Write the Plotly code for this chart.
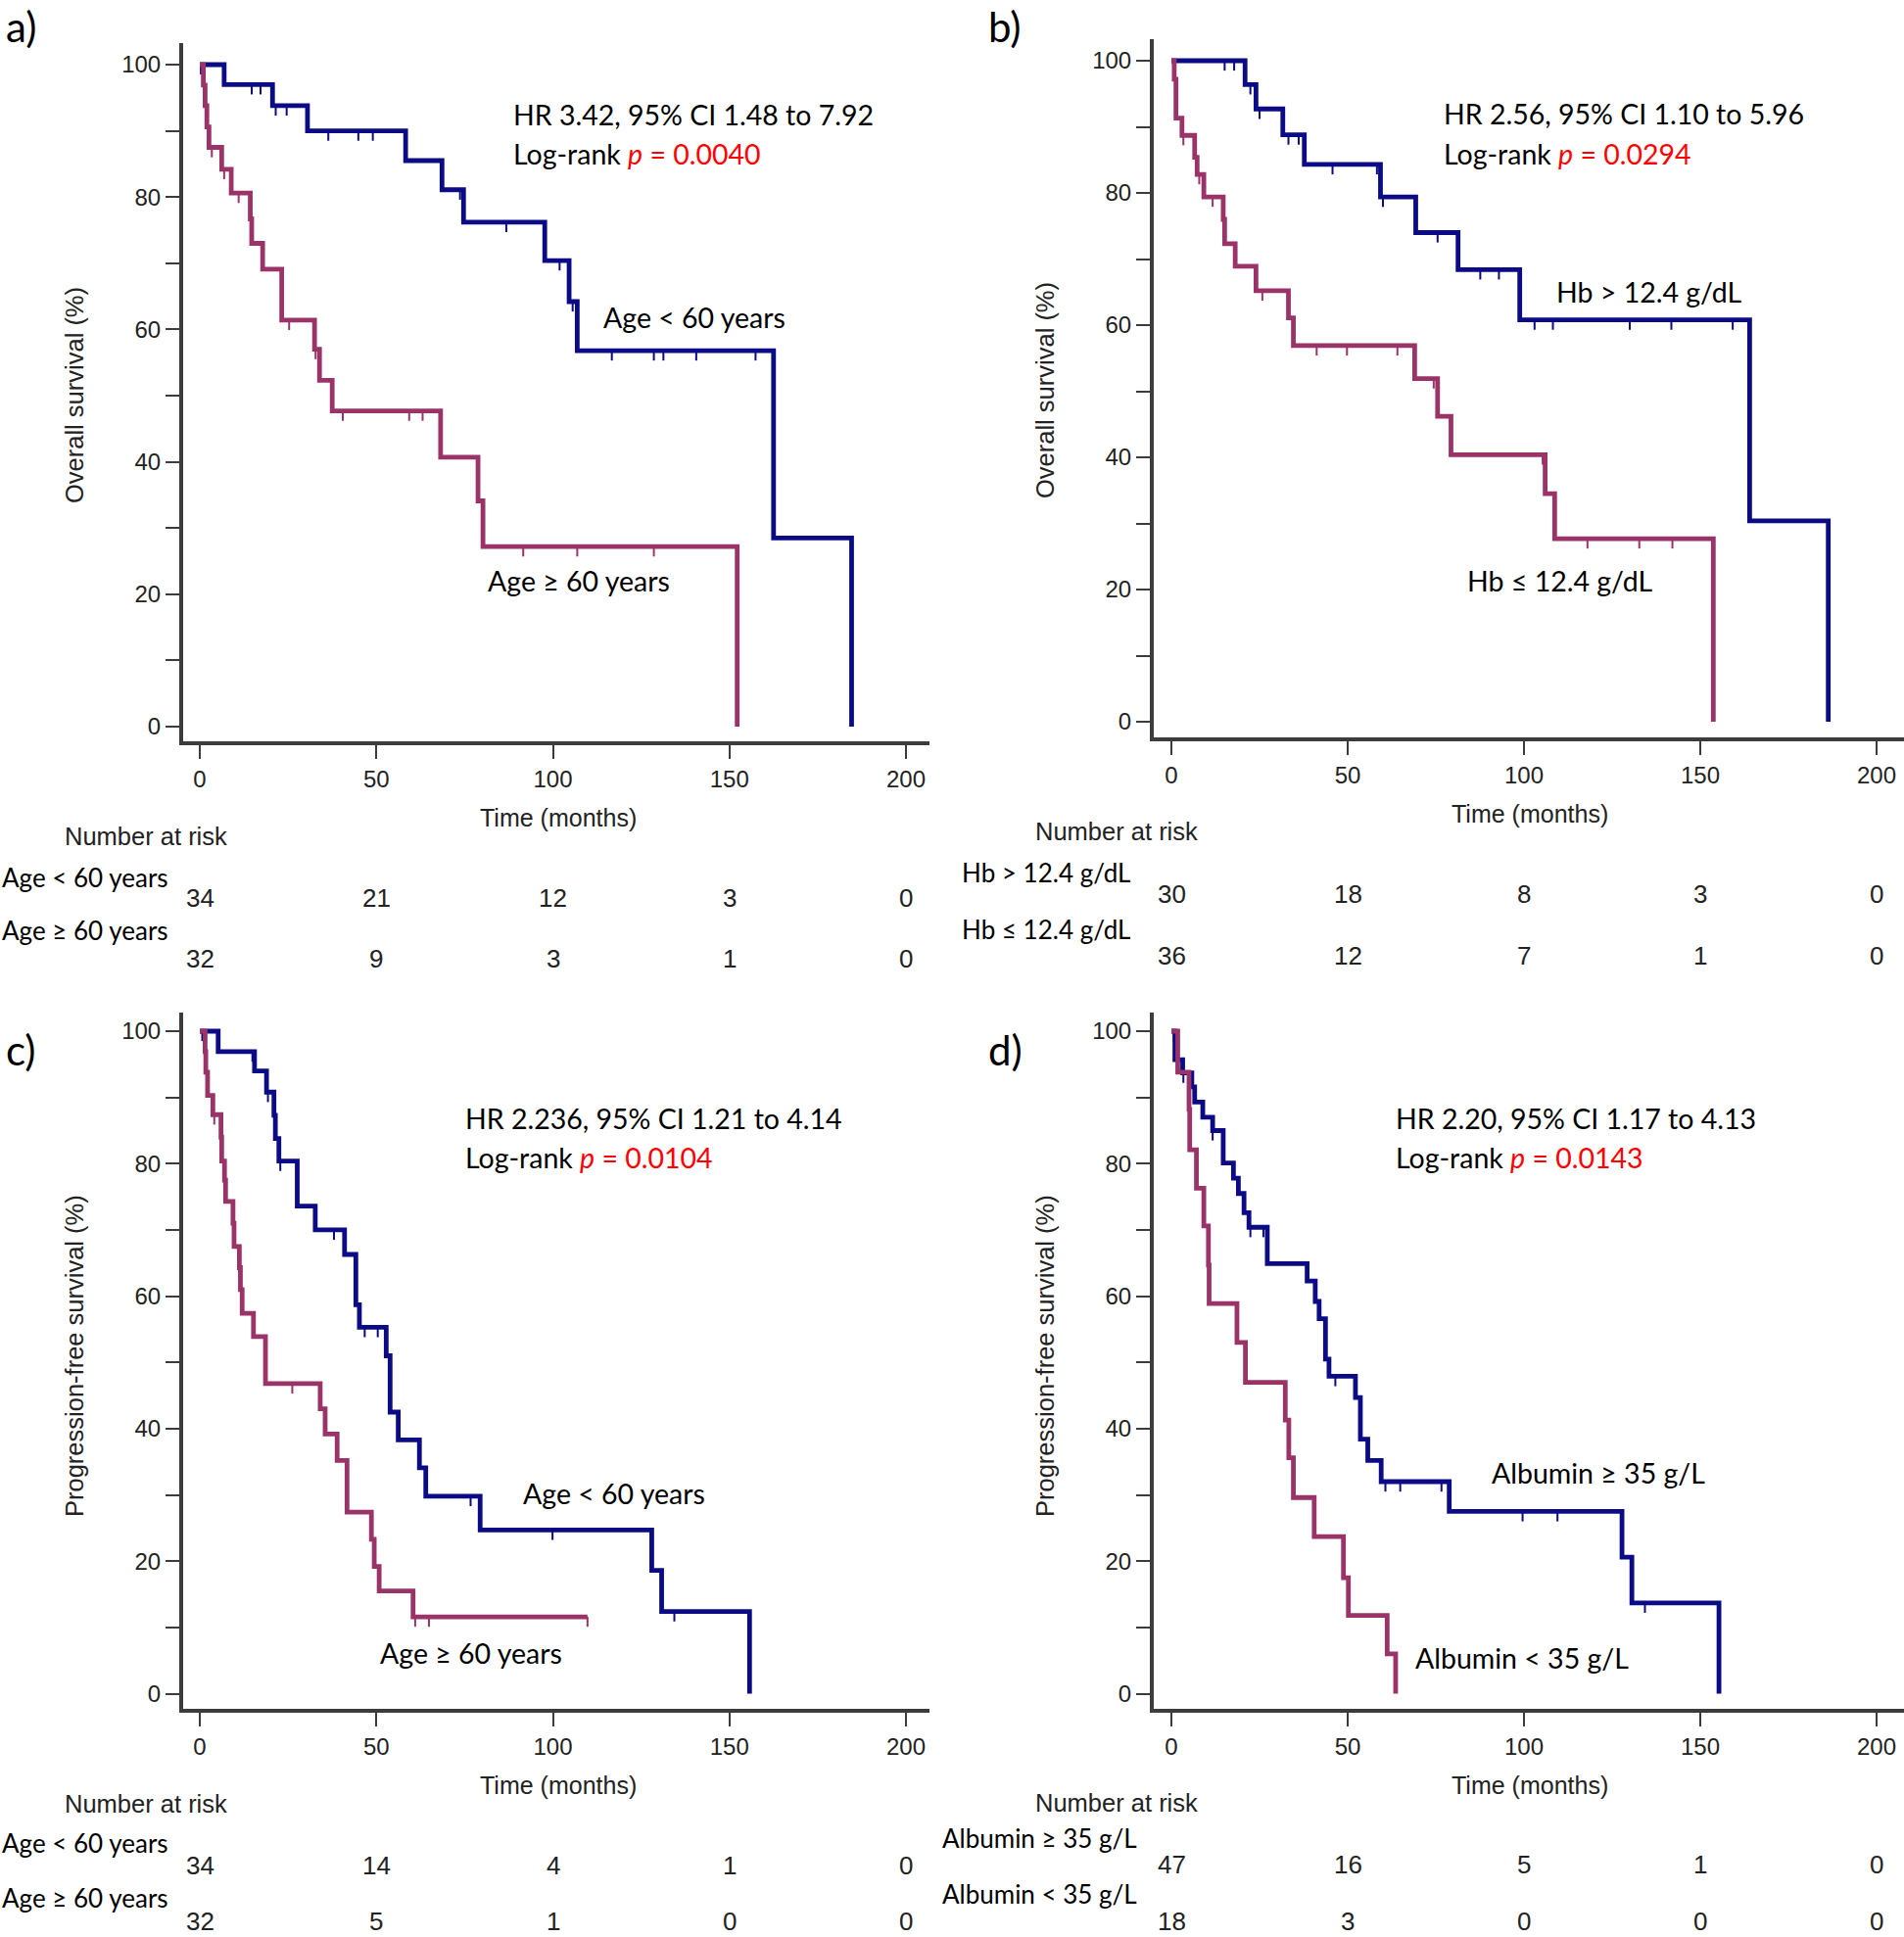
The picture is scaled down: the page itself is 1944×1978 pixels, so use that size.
import plotly.graph_objects as go

W, H = 1944, 1978

# ---------------- DATA ----------------
# Panel a: overall survival by age
a_blue_t = [0, 6.9, 20.6, 30.5, 58.3, 68.6, 74.7, 97.7, 104.6, 106.9, 162.5, 184.6]
a_blue_s = [100, 97.0, 93.8, 90.0, 85.5, 81.1, 76.2, 70.4, 64.2, 56.8, 28.5, 0]
a_blue_c = [0.3, 14.7, 17.2, 21.5, 24.6, 36.4, 44.9, 49.0, 73.7, 86.8, 101.9, 105.6,
            116.7, 128.6, 131.3, 140.6, 157.4]
a_mag_t = [0, 1.0, 1.5, 2.0, 2.6, 6.2, 8.9, 14.3, 14.7, 17.8, 23.2, 32.5, 33.9, 37.5,
           68.2, 78.8, 80.2, 152.2]
a_mag_s = [100, 96.9, 93.8, 90.6, 87.5, 84.2, 80.6, 76.7, 73.0, 69.1, 61.4, 57.0, 52.3,
           47.7, 40.7, 34.1, 27.2, 0]
a_mag_c = [3.4, 6.9, 11.0, 25.3, 32.8, 40.5, 59.3, 63.1, 91.6, 106.9, 128.6]

# Panel b: overall survival by haemoglobin
b_blue_t = [0, 20.9, 24.0, 31.6, 37.7, 59.3, 69.3, 81.3, 98.8, 164.0, 186.3]
b_blue_s = [100, 96.4, 92.7, 88.8, 84.3, 79.4, 74.0, 68.4, 60.8, 30.4, 0]
b_blue_c = [15.1, 17.8, 22.4, 25.0, 33.2, 36.1, 45.7, 58.3, 60.0, 75.5, 87.6, 92.9,
            103.0, 108.2, 130.0, 141.8, 159.2]
b_mag_t = [0, 0.8, 1.3, 3.0, 6.6, 7.3, 9.2, 14.7, 15.1, 18.1, 24.0, 33.2, 34.6, 69.0,
           75.5, 79.3, 106.0, 108.7, 153.7]
b_mag_s = [100, 97.2, 91.3, 88.7, 85.4, 82.8, 79.4, 76.0, 72.3, 68.9, 65.2, 61.1, 56.9,
           51.9, 46.2, 40.4, 34.5, 27.7, 0]
b_mag_c = [3.4, 7.9, 11.7, 25.8, 41.2, 49.8, 64.1, 74.4, 105.3, 118.0, 132.7, 142.1]

# Panel c: progression-free survival by age
c_blue_t = [0, 5.2, 15.5, 18.9, 21.0, 21.4, 22.4, 27.6, 32.7, 41.0, 44.2, 45.2, 52.8,
            53.9, 56.2, 62.2, 64.0, 79.4, 128.0, 130.8, 155.7]
c_blue_s = [100, 96.9, 94.0, 90.8, 87.3, 83.8, 80.4, 73.6, 70.0, 66.3, 58.7, 55.3, 51.0,
            42.5, 38.3, 34.1, 29.8, 24.7, 18.6, 12.4, 0]
c_blue_c = [0.7, 14.9, 19.3, 22.8, 38.0, 46.7, 50.4, 76.7, 99.9, 134.4]
c_mag_t = [0, 1.5, 1.7, 2.2, 3.7, 6.0, 6.2, 7.0, 7.3, 9.4, 9.7, 11.2, 11.5, 12.0, 15.2,
           18.6, 34.1, 35.5, 38.9, 41.7, 48.6, 49.4, 50.8, 60.4, 109.8]
c_mag_s = [100, 96.9, 93.8, 90.3, 87.4, 84.0, 80.4, 77.5, 74.3, 71.0, 67.5, 64.3, 61.0,
           57.4, 53.9, 46.8, 43.0, 39.2, 35.2, 27.4, 23.3, 19.2, 15.5, 11.6, 11.6]
c_mag_c = [4.1, 26.2, 61.0, 64.9, 109.8]

# Panel d: progression-free survival by albumin
d_blue_t = [0, 1.0, 3.2, 5.8, 6.6, 8.9, 11.7, 14.7, 17.6, 19.0, 20.6, 22.0, 27.2, 38.5,
            40.8, 41.9, 43.7, 44.7, 52.2, 53.6, 55.7, 59.5, 78.8, 127.8, 130.6, 155.3]
d_blue_s = [100, 95.7, 93.7, 91.6, 89.3, 87.0, 85.0, 80.1, 77.8, 75.5, 72.6, 70.4, 64.9,
            62.3, 59.2, 56.6, 50.5, 47.9, 44.7, 38.4, 35.2, 32.0, 27.5, 20.6, 13.7, 0]
d_blue_c = [0.7, 3.4, 11.7, 22.4, 26.1, 46.5, 60.7, 64.9, 76.6, 99.6, 109.5, 134.3]
d_mag_t = [0, 1.8, 5.0, 5.2, 7.1, 9.2, 10.5, 10.7, 18.6, 21.0, 32.3, 33.3, 34.6, 40.5,
           48.8, 50.2, 61.2, 63.6]
d_mag_s = [100, 93.8, 88.2, 82.1, 76.3, 70.6, 64.7, 58.9, 53.0, 47.0, 41.3, 35.6, 29.6,
           23.7, 17.5, 11.8, 6.0, 0]
d_mag_c = []

risk_times = [0, 50, 100, 150, 200]
a_risk_blue = [34, 21, 12, 3, 0]
a_risk_mag = [32, 9, 3, 1, 0]
b_risk_blue = [30, 18, 8, 3, 0]
b_risk_mag = [36, 12, 7, 1, 0]
c_risk_blue = [34, 14, 4, 1, 0]
c_risk_mag = [32, 5, 1, 0, 0]
d_risk_blue = [47, 16, 5, 1, 0]
d_risk_mag = [18, 3, 0, 0, 0]

y_ticks = [0, 10, 20, 30, 40, 50, 60, 70, 80, 90, 100]
y_ticktext = ["0", "", "20", "", "40", "", "60", "", "80", "", "100"]

# ---------------- STYLE / LAYOUT ----------------
BLUE = "#0b0b86"
MAG = "#9a3468"
AXC = "#3c3c3c"
ARIAL = "Liberation Sans, Arial, sans-serif"
NARROW = "Liberation Sans Narrow, Arial Narrow, Liberation Sans, sans-serif"
CAL = "Lato, Open Sans, sans-serif"

panels = [
    dict(name="a", bt=a_blue_t, bs=a_blue_s, bc=a_blue_c, mt=a_mag_t, ms=a_mag_s, mc=a_mag_c,
         rb=a_risk_blue, rm=a_risk_mag,
         xpx=(187, 949), ypx=(44, 757), x0=204, x200=925, y100=66, y0=742,
         ytitle="Overall survival (%)", ytx=76, yty=404,
         hr="HR 3.42, 95% CI 1.48 to 7.92", p="0.0040", hrx=88.3, hry=92.5, lry=86.6,
         lb="Age &lt; 60 years", lbx=113.8, lby=61.8, lm="Age ≥ 60 years", lmx=80.9, lmy=22.0,
         rlb="Age &lt; 60 years", rlm="Age ≥ 60 years", rlx=0, rly=(896, 950), rny=(917, 979),
         nar=(149, 854), tm=(570, 835), letter=(4, 27)),
    dict(name="b", bt=b_blue_t, bs=b_blue_s, bc=b_blue_c, mt=b_mag_t, ms=b_mag_s, mc=b_mag_c,
         rb=b_risk_blue, rm=b_risk_mag,
         xpx=(1178, 1944), ypx=(40, 753), x0=1196, x200=1916, y100=62, y0=737,
         ytitle="Overall survival (%)", ytx=1067, yty=399,
         hr="HR 2.56, 95% CI 1.10 to 5.96", p="0.0294", hrx=76.7, hry=92.0, lry=86.0,
         lb="Hb &gt; 12.4 g/dL", lbx=108.6, lby=65.0, lm="Hb ≤ 12.4 g/dL", lmx=83.4, lmy=21.3,
         rlb="Hb &gt; 12.4 g/dL", rlm="Hb ≤ 12.4 g/dL", rlx=980, rly=(891, 949), rny=(913, 976),
         nar=(1140, 849), tm=(1562, 831), letter=(1007, 27)),
    dict(name="c", bt=c_blue_t, bs=c_blue_s, bc=c_blue_c, mt=c_mag_t, ms=c_mag_s, mc=c_mag_c,
         rb=c_risk_blue, rm=c_risk_mag,
         xpx=(187, 949), ypx=(1034, 1745), x0=204, x200=925, y100=1053, y0=1729.5,
         ytitle="Progression-free survival (%)", ytx=76, yty=1385,
         hr="HR 2.236, 95% CI 1.21 to 4.14", p="0.0104", hrx=74.6, hry=86.9, lry=81.0,
         lb="Age &lt; 60 years", lbx=91.1, lby=30.2, lm="Age ≥ 60 years", lmx=50.4, lmy=6.2,
         rlb="Age &lt; 60 years", rlm="Age ≥ 60 years", rlx=0, rly=(1882, 1938), rny=(1905, 1962),
         nar=(149, 1842), tm=(570, 1823), letter=(4, 1072)),
    dict(name="d", bt=d_blue_t, bs=d_blue_s, bc=d_blue_c, mt=d_mag_t, ms=d_mag_s, mc=d_mag_c,
         rb=d_risk_blue, rm=d_risk_mag,
         xpx=(1178, 1944), ypx=(1034, 1745), x0=1196, x200=1916, y100=1053, y0=1729.5,
         ytitle="Progression-free survival (%)", ytx=1067, yty=1385,
         hr="HR 2.20, 95% CI 1.17 to 4.13", p="0.0143", hrx=63.0, hry=86.9, lry=81.0,
         lb="Albumin ≥ 35 g/L", lbx=90.4, lby=33.4, lm="Albumin &lt; 35 g/L", lmx=68.7, lmy=5.4,
         rlb="Albumin ≥ 35 g/L", rlm="Albumin &lt; 35 g/L", rlx=960, rly=(1877, 1934), rny=(1904, 1962),
         nar=(1140, 1841), tm=(1562, 1823), letter=(1007, 1072)),
]


def surv_at(times, surv, t):
    v = surv[0]
    for ti, si in zip(times, surv):
        if ti <= t:
            v = si
    return v


def censor_xy(times, surv, cens, L=1.5):
    xs, ys = [], []
    for c in cens:
        s = surv_at(times, surv, c)
        xs += [c, c, None]
        ys += [s, s - L, None]
    return xs, ys


fig = go.Figure()
annotations = []
layout = {}

for i, P in enumerate(panels, start=1):
    xa = "x" if i == 1 else f"x{i}"
    ya = "y" if i == 1 else f"y{i}"
    sx = (P["x200"] - P["x0"]) / 200.0
    xr = [(P["xpx"][0] - P["x0"]) / sx, (P["xpx"][1] - P["x0"]) / sx]
    sy = (P["y0"] - P["y100"]) / 100.0
    yr = [(P["y0"] - P["ypx"][1]) / sy, (P["y0"] - P["ypx"][0]) / sy]

    for t, s, c, col in [(P["bt"], P["bs"], P["bc"], BLUE), (P["mt"], P["ms"], P["mc"], MAG)]:
        fig.add_trace(go.Scatter(x=t, y=s, mode="lines", line=dict(color=col, width=4.8, shape="hv"),
                                 xaxis=xa, yaxis=ya, showlegend=False, hoverinfo="skip"))
        cx, cy = censor_xy(t, s, c)
        if cx:
            fig.add_trace(go.Scatter(x=cx, y=cy, mode="lines", line=dict(color=col, width=2),
                                     xaxis=xa, yaxis=ya, showlegend=False, hoverinfo="skip"))

    common = dict(showline=True, linecolor=AXC, linewidth=4, ticks="outside", ticklen=14,
                  tickwidth=2, tickcolor=AXC, showgrid=False, zeroline=False,
                  tickfont=dict(family=ARIAL, size=24, color="#222"), fixedrange=True)
    layout["xaxis" if i == 1 else f"xaxis{i}"] = dict(
        common, domain=[P["xpx"][0] / W, P["xpx"][1] / W], range=xr, anchor=ya,
        tickvals=risk_times, ticktext=[str(v) for v in risk_times])
    layout["yaxis" if i == 1 else f"yaxis{i}"] = dict(
        common, domain=[1 - P["ypx"][1] / H, 1 - P["ypx"][0] / H], range=yr, anchor=xa,
        tickvals=y_ticks, ticktext=y_ticktext)

    xref, yref = xa, ya
    big = dict(family=CAL, size=28.5, color="black")
    annotations += [
        dict(x=P["hrx"], y=P["hry"], xref=xref, yref=yref, text=P["hr"], showarrow=False,
             xanchor="left", yanchor="middle", font=big),
        dict(x=P["hrx"], y=P["lry"], xref=xref, yref=yref,
             text="Log-rank <span style='color:#ff0000'><i>p</i> = " + P["p"] + "</span>",
             showarrow=False, xanchor="left", yanchor="middle", font=big),
        dict(x=P["lbx"], y=P["lby"], xref=xref, yref=yref, text=P["lb"], showarrow=False,
             xanchor="left", yanchor="middle", font=big),
        dict(x=P["lmx"], y=P["lmy"], xref=xref, yref=yref, text=P["lm"], showarrow=False,
             xanchor="left", yanchor="middle", font=big),
        dict(x=P["ytx"] / W, y=1 - P["yty"] / H, xref="paper", yref="paper", text=P["ytitle"],
             textangle=-90, showarrow=False, xanchor="center", yanchor="middle",
             font=dict(family=NARROW, size=25.5, color="#222")),
        dict(x=P["tm"][0] / W, y=1 - P["tm"][1] / H, xref="paper", yref="paper", text="Time (months)",
             showarrow=False, xanchor="center", yanchor="middle",
             font=dict(family=NARROW, size=25, color="#222")),
        dict(x=P["nar"][0] / W, y=1 - P["nar"][1] / H, xref="paper", yref="paper",
             text="Number at risk", showarrow=False, xanchor="center", yanchor="middle",
             font=dict(family=NARROW, size=25.5, color="#222")),
        dict(x=P["rlx"] / W, y=1 - P["rly"][0] / H, xref="paper", yref="paper", text=P["rlb"],
             showarrow=False, xanchor="left", yanchor="middle",
             font=dict(family=CAL, size=26, color="black")),
        dict(x=P["rlx"] / W, y=1 - P["rly"][1] / H, xref="paper", yref="paper", text=P["rlm"],
             showarrow=False, xanchor="left", yanchor="middle",
             font=dict(family=CAL, size=26, color="black")),
        dict(x=P["letter"][0] / W, y=1 - P["letter"][1] / H, xref="paper", yref="paper",
             text=P["name"] + ")", showarrow=False, xanchor="left", yanchor="middle",
             font=dict(family=CAL, size=42, color="black")),
    ]
    for tv, nb, nm in zip(risk_times, P["rb"], P["rm"]):
        annotations.append(dict(x=tv, y=1 - P["rny"][0] / H, xref=xref, yref="paper", text=str(nb),
                                showarrow=False, xanchor="center", yanchor="middle",
                                font=dict(family=NARROW, size=26, color="#222")))
        annotations.append(dict(x=tv, y=1 - P["rny"][1] / H, xref=xref, yref="paper", text=str(nm),
                                showarrow=False, xanchor="center", yanchor="middle",
                                font=dict(family=NARROW, size=26, color="#222")))

fig.update_layout(**layout)
fig.update_layout(width=W, height=H, margin=dict(l=0, r=0, t=0, b=0),
                  paper_bgcolor="white", plot_bgcolor="white",
                  annotations=annotations, showlegend=False)

fig.write_html("out.html", config={"displayModeBar": False},
               post_script="document.body.style.margin='0';")
